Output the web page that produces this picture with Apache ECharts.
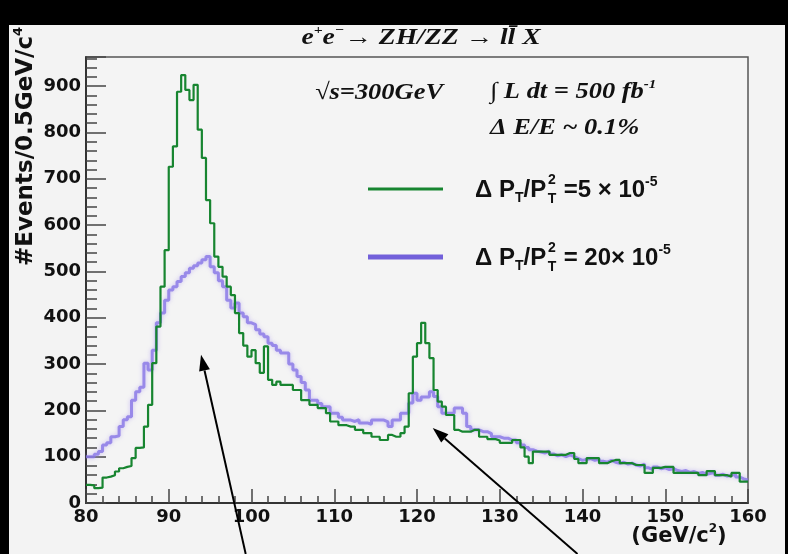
<!DOCTYPE html>
<html>
<head>
<meta charset="utf-8">
<script src="https://cdn.jsdelivr.net/npm/echarts/dist/echarts.min.js"></script>
<style>
html, body { margin: 0; padding: 0; background: #f3f3f3; }
#wrap { position: relative; width: 788px; height: 554px; }
#main { width: 788px; height: 554px; }
.band { position: absolute; background: #000; }
</style>
</head>
<body>
<div id="wrap">
  <div id="main"></div>
  <div class="band" style="left:0;top:0;width:788px;height:25px"></div>
  <div class="band" style="left:0;top:0;width:9px;height:554px"></div>
  <div class="band" style="left:785px;top:0;width:3px;height:554px"></div>
</div>
<script>
// histogram bins: 80..160 GeV, 0.5 GeV wide
var binStart = 80;
var binWidth = 0.5;

// dP_T/P_T^2 = 5e-5 (green)
var green = [
  39, 38, 32, 33, 55, 57, 60, 68, 75, 78,
  80, 97, 119, 120, 165, 212, 302, 381, 467, 546,
  726, 770, 888, 924, 892, 870, 903, 806, 745, 654,
  604, 532, 510, 489, 467, 449, 410, 367, 340, 316,
  330, 302, 281, 338, 266, 255, 262, 255, 255, 255,
  244, 244, 222, 222, 212, 212, 205, 205, 194, 176,
  176, 168, 168, 165, 165, 158, 158, 151, 151, 143,
  143, 136, 136, 147, 143, 143, 151, 165, 237, 316,
  345, 389, 345, 313, 244, 219, 208, 190, 190, 158,
  154, 154, 154, 158, 158, 143, 143, 138, 138, 135,
  130, 130, 130, 136, 136, 120, 100, 86, 111, 111,
  111, 111, 104, 104, 104, 104, 108, 108, 95, 86,
  86, 97, 97, 97, 86, 86, 90, 93, 93, 86,
  86, 86, 82, 82, 82, 65, 65, 76, 76, 78,
  78, 78, 65, 65, 65, 65, 65, 65, 60, 60,
  69, 69, 60, 60, 60, 57, 65, 65, 46, 46
];

// dP_T/P_T^2 = 20e-5 (purple)
var purple = [
  100, 100, 105, 111, 125, 130, 143, 145, 165, 180,
  186, 222, 240, 250, 302, 287, 330, 389, 410, 438,
  460, 467, 478, 489, 497, 507, 512, 518, 525, 532,
  510, 497, 480, 467, 438, 421, 432, 410, 402, 389,
  385, 374, 365, 359, 345, 340, 330, 324, 324, 300,
  287, 273, 260, 244, 222, 222, 215, 208, 208, 194,
  194, 185, 179, 179, 176, 180, 173, 173, 170, 179,
  179, 179, 175, 165, 179, 179, 194, 194, 216, 237,
  222, 229, 229, 240, 230, 208, 194, 194, 194, 205,
  205, 194, 165, 158, 158, 154, 154, 150, 143, 143,
  140, 140, 136, 136, 130, 125, 120, 115, 112, 110,
  108, 112, 106, 102, 104, 100, 104, 100, 96, 92,
  94, 96, 92, 95, 90, 88, 92, 88, 86, 88,
  84, 86, 82, 80, 84, 76, 72, 78, 74, 76,
  72, 74, 70, 68, 70, 66, 68, 64, 66, 62,
  64, 66, 60, 62, 58, 60, 62, 56, 52, 50
];

// arrows in data coords: [tail, tip]
var arrows = [
  [[99.3, -110], [93.9, 320]],
  [[139.4, -110], [121.9, 162]]
];

function toSteps(vals) {
  var d = [];
  for (var i = 0; i < vals.length; i++) {
    d.push([binStart + binWidth * i, vals[i]]);
  }
  d.push([binStart + binWidth * vals.length, vals[vals.length - 1]]);
  return d;
}

var chart = echarts.init(document.getElementById('main'));

var tickFont = { fontFamily: 'DejaVu Sans', fontWeight: 'bold', fontSize: 18, color: '#111' };

option = {
  backgroundColor: '#f3f3f3',
  animation: false,
  grid: {
    left: 86, right: 40, top: 57, bottom: 51,
    show: true,
    backgroundColor: '#f4f4f4',
    borderColor: '#555',
    borderWidth: 1.5
  },
  xAxis: {
    type: 'value',
    min: 80, max: 160, interval: 10,
    axisLine: { lineStyle: { color: '#333', width: 2 } },
    axisTick: { inside: true, length: 14, lineStyle: { color: '#444', width: 1.5 } },
    minorTick: { show: true, splitNumber: 5, length: 7, lineStyle: { color: '#444', width: 1.5 } },
    axisLabel: Object.assign({ margin: 5 }, tickFont),
    splitLine: { show: false }
  },
  yAxis: {
    type: 'value',
    min: 0, max: 963, interval: 100,
    axisLine: { show: true, lineStyle: { color: '#333', width: 2 } },
    axisTick: { inside: true, length: 20, lineStyle: { color: '#444', width: 1.5 } },
    minorTick: { show: true, splitNumber: 5, length: 11, lineStyle: { color: '#444', width: 1.5 } },
    axisLabel: Object.assign({ margin: 5, showMaxLabel: false }, tickFont),
    splitLine: { show: false }
  },
  series: [
    {
      name: 'purple',
      type: 'line',
      step: 'end',
      symbol: 'none',
      data: toSteps(purple),
      lineStyle: {
        color: 'rgba(135,118,230,0.8)', width: 3,
        shadowColor: 'rgba(170,150,240,0.7)', shadowBlur: 4
      },
      z: 2
    },
    {
      name: 'green',
      type: 'line',
      step: 'end',
      symbol: 'none',
      data: toSteps(green),
      lineStyle: { color: '#178530', width: 2.2 },
      z: 3
    }
  ]
};

chart.setOption(option);

var serif = 'Liberation Serif';
var sans = 'Liberation Sans';
function rs(fam, size, lh, va, italic) {
  return {
    fontFamily: fam, fontSize: size, fontWeight: 'bold',
    fontStyle: italic ? 'italic' : 'normal',
    lineHeight: lh, verticalAlign: va, fill: '#111'
  };
}
var serifRich = {
  n: rs(serif, 23, 28, 'middle', true),
  sp: rs(serif, 13, 14, 'top', true)
};
var sansRich = {
  n: rs(sans, 24, 30, 'middle', false),
  sb: rs(sans, 14, 12, 'bottom', false),
  sp: rs(sans, 14, 14, 'top', false)
};
var dejaRich = {
  n: rs('DejaVu Sans', 23, 28, 'middle', false),
  sp: rs('DejaVu Sans', 13, 13, 'top', false)
};

var g = [];

// title
g.push({ type: 'text', x: 421, y: 38, scaleX: 1.2, z: 50, style: {
  text: '{n|e}{sp|+}{n|e}{sp|\u2212}{n|\u2192 ZH/ZZ \u2192 ll\u0304 X}',
  rich: serifRich, align: 'center', verticalAlign: 'middle'
}});

// y axis name
g.push({ type: 'text', x: 26, y: 266, rotation: Math.PI / 2, z: 50, style: {
  text: '{n|#Events/0.5GeV/c}{sp|4}',
  rich: dejaRich, align: 'left', verticalAlign: 'middle'
}});

// x axis unit
g.push({ type: 'text', x: 679, y: 537, z: 50, style: {
  text: '{n|(GeV/c}{sp|2}{n|)}',
  rich: {
    n: rs('DejaVu Sans', 21, 28, 'middle', false),
    sp: rs('DejaVu Sans', 12, 14, 'top', false)
  },
  align: 'center', verticalAlign: 'middle'
}});

// annotations
g.push({ type: 'text', x: 315, y: 93, scaleX: 1.15, z: 50, style: {
  text: '{n|\u221As=300GeV}', rich: serifRich, align: 'left', verticalAlign: 'middle' } });
g.push({ type: 'text', x: 490, y: 92, scaleX: 1.15, z: 50, style: {
  text: '{n|\u222B L dt = 500 fb}{sp|-1}', rich: serifRich, align: 'left', verticalAlign: 'middle' } });
g.push({ type: 'text', x: 490, y: 128, scaleX: 1.15, z: 50, style: {
  text: '{n|\u0394 E/E ~ 0.1%}', rich: serifRich, align: 'left', verticalAlign: 'middle' } });

// legend
var legendRows = [
  { y: 189, color: '#178530', width: 3, tail: ' =5 \u00D7 10' },
  { y: 257, color: 'rgba(100,80,215,0.9)', width: 5, tail: ' = 20\u00D7 10' }
];
legendRows.forEach(function (r) {
  g.push({ type: 'line', z: 50, shape: { x1: 368, y1: r.y, x2: 443, y2: r.y },
    style: { stroke: r.color, lineWidth: r.width } });
  g.push({ type: 'text', x: 475, y: r.y + 1, z: 50, style: {
    text: '{n|\u0394 P}{sb|T}{n|/P}', rich: sansRich, align: 'left', verticalAlign: 'middle' } });
  g.push({ type: 'text', x: 552, y: r.y - 9, z: 51, style: {
    text: '2', font: 'bold 14px "Liberation Sans"', fill: '#111', align: 'center', verticalAlign: 'middle' } });
  g.push({ type: 'text', x: 552, y: r.y + 10, z: 51, style: {
    text: 'T', font: 'bold 14px "Liberation Sans"', fill: '#111', align: 'center', verticalAlign: 'middle' } });
  g.push({ type: 'text', x: 557, y: r.y + 1, z: 50, style: {
    text: '{n|' + r.tail + '}{sp|-5}', rich: sansRich, align: 'left', verticalAlign: 'middle' } });
});

// arrows
arrows.forEach(function (a) {
  var p0 = chart.convertToPixel({ gridIndex: 0 }, a[0]);
  var p1 = chart.convertToPixel({ gridIndex: 0 }, a[1]);
  var dx = p1[0] - p0[0], dy = p1[1] - p0[1];
  var len = Math.sqrt(dx * dx + dy * dy);
  var ux = dx / len, uy = dy / len;
  var hl = 16, hw = 5.5;
  var bx = p1[0] - ux * hl, by = p1[1] - uy * hl;
  g.push({ type: 'line', z: 60, shape: { x1: p0[0], y1: p0[1], x2: bx, y2: by },
    style: { stroke: '#000', lineWidth: 2 } });
  g.push({ type: 'polygon', z: 60, shape: { points: [
    [p1[0], p1[1]], [bx - uy * hw, by + ux * hw], [bx + uy * hw, by - ux * hw]
  ] }, style: { fill: '#000' } });
});

chart.setOption({ graphic: g });
</script>
</body>
</html>
